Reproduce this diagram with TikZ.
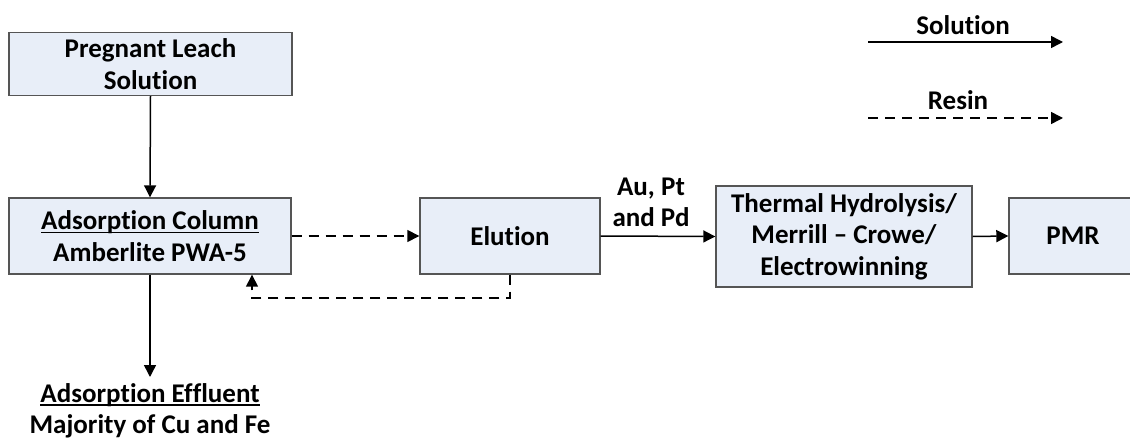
\documentclass[tikz,border=0pt]{standalone}
\usepackage{fontspec}
\setmainfont{Carlito}[Ligatures=NoCommon]
\usetikzlibrary{arrows.meta}
\definecolor{boxfill}{RGB}{232,238,248}
\definecolor{boxline}{RGB}{85,85,85}
\newcommand{\myul}[1]{\setbox0\hbox{#1}\rlap{\rule[-3.5pt]{\wd0}{1.5pt}}\box0}
\tikzset{
  procbox/.style={draw=boxline, fill=boxfill, line width=1.4pt, align=center, inner sep=2pt},
  lbl/.style={align=center, inner sep=0pt},
  soln/.style={line width=1.5pt, -{Triangle[length=12pt,width=12pt]}},
  resin/.style={line width=1.5pt, dash pattern=on 10pt off 7pt, -{Triangle[length=12pt,width=12pt]}},
  every node/.style={font=\fontsize{27}{31.5}\selectfont\bfseries}
}
\begin{document}
\begin{tikzpicture}[x=1pt,y=1pt]
\useasboundingbox (0,0) rectangle (1130,-441);
\clip (0,0) rectangle (1130,-441);
\node[procbox, minimum width=283pt, minimum height=63pt] (pls) at (150.5,-64) {Pregnant Leach\\Solution};
\node[procbox, minimum width=282pt, minimum height=76pt] (ads) at (150,-236) {\myul{Adsorption Column}\\Amberlite PWA-5};
\node[procbox, minimum width=180pt, minimum height=76pt] (elu) at (510,-236) {Elution};
\node[procbox, minimum width=256pt, minimum height=101pt] (thm) at (844,-236.5) {Thermal Hydrolysis/\\Merrill -- Crowe/\\Electrowinning};
\node[procbox, minimum width=128pt, minimum height=76pt] (pmr) at (1073,-236) {PMR};
\node[lbl, anchor=north, inner ysep=6pt] (eff) at (150,-377) {\myul{Adsorption Effluent}\\Majority of Cu and Fe};
\node[lbl, anchor=south, inner sep=3pt] (au) at (651,-230) {Au, Pt\\and Pd};
\node[lbl, anchor=base] (legs) at (963,-35) {Solution};
\node[lbl, anchor=base] (legr) at (958,-110) {Resin};
\coordinate (s1) at (868,-42);
\coordinate (s2) at (1063,-42);
\coordinate (r1) at (868,-118);
\coordinate (r2) at (1063,-118);
\coordinate (lp) at (252,-298);
\draw[soln] (pls.south) -- (ads.north);
\draw[soln] (ads.south) -- (eff.north);
\draw[resin] (ads.east) -- (elu.west);
\draw[resin] (elu.south) |- (lp) -- (lp |- ads.south);
\draw[soln] (elu.east) -- (thm.west);
\draw[soln] (thm.east) -- (pmr.west);
\draw[soln] (s1) -- (s2);
\draw[resin] (r1) -- (r2);
\end{tikzpicture}
\end{document}
